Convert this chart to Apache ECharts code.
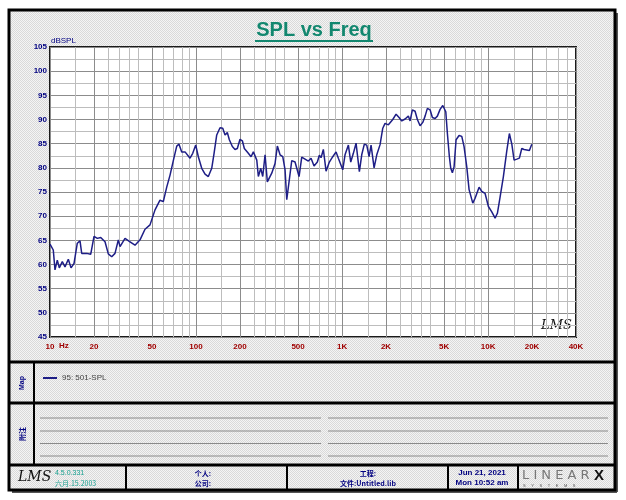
<!DOCTYPE html>
<html><head><meta charset="utf-8">
<script src="https://cdn.jsdelivr.net/npm/echarts@6/dist/echarts.min.js"></script>
<style>
html,body{margin:0;padding:0;background:#fff;}
#wrap{position:relative;width:626px;height:500px;overflow:hidden;}
#bg{position:absolute;left:9px;top:10px;width:606px;height:480px;background:repeating-conic-gradient(#d9d9d9 0 25%,#f4f4f4 0 50%) 0 0/2px 2px;}
#chart{position:absolute;left:0;top:0;width:626px;height:500px;}
</style></head><body>
<div id="wrap"><div id="bg"></div><div id="chart"></div></div>
<script>
// ---- data ----
const freqs = [10.0,10.53,10.82,11.22,11.58,12.14,12.67,13.35,13.93,14.6,15.38,16.05,16.49,17.84,19.0,20.02,21.09,22.25,23.81,25.08,26.46,27.87,29.37,30.17,32.64,35.31,38.21,41.34,44.73,48.4,52.39,56.66,59.7,63.0,66.38,69.9,73.77,76.47,79.8,84.09,86.37,90.98,94.93,99.52,103.7,109.4,115.3,121.4,128.1,132.9,138.6,146.0,152.4,158.0,163.8,169.1,177.3,184.9,191.8,200.1,207.6,214.2,228.1,238.1,247.0,260.6,267.2,277.5,286.3,297.0,307.9,330.0,347.6,360.5,376.2,392.6,407.1,418.1,452.4,476.5,507.6,529.7,558.0,587.8,613.4,643.0,677.3,699.0,718.1,744.6,777.0,818.5,863.6,909.9,943.5,1011,1048,1105,1147,1195,1247,1314,1364,1421,1476,1531,1580,1657,1729,1821,1900,1970,2076,2225,2344,2457,2564,2701,2845,2924,3031,3162,3280,3422,3571,3704,3840,4007,4155,4335,4495,4691,4895,4996,5133,5264,5432,5553,5695,5849,6037,6330,6605,6848,7146,7411,7857,8147,8677,9055,9539,10050,10600,11170,11580,12090,12730,13430,13990,14540,15070,15730,16380,17010,17650,18410,19180,19920];
const spl = [64.2,63.0,58.9,60.9,59.3,60.6,59.5,61.1,59.3,60.2,64.4,64.9,62.3,62.3,62.1,65.8,65.4,65.6,64.7,62.2,61.6,62.3,65.1,63.7,65.4,64.7,64.0,65.1,67.3,68.2,71.3,73.3,73.0,76.0,78.5,81.5,84.5,84.9,83.3,83.3,83.4,82.0,83.0,84.7,82.3,79.9,78.7,78.2,79.9,83.0,86.8,88.3,88.2,86.8,87.3,85.8,84.4,83.8,84.0,85.9,85.6,84.0,83.0,82.3,83.3,81.6,78.2,79.9,78.2,82.7,77.1,78.9,80.9,84.5,82.7,82.3,79.6,73.4,81.5,81.2,78.2,82.2,81.8,81.4,82.0,80.4,81.2,82.6,82.1,83.8,79.3,81.2,82.3,83.3,82.0,79.6,82.7,84.7,81.2,83.0,85.1,79.2,82.7,84.9,84.7,82.3,84.7,80.0,82.7,84.8,88.2,89.2,88.9,90.0,91.1,90.4,89.7,90.1,90.7,89.7,92.0,91.7,90.0,88.7,89.4,90.7,92.3,92.0,90.4,90.2,90.7,92.1,92.9,93.0,91.6,87.1,82.3,79.9,79.0,80.2,85.8,86.7,86.5,84.4,80.2,75.5,72.7,73.7,76.0,75.1,74.7,72.0,70.9,69.6,70.6,74.0,78.2,83.5,87.1,84.9,81.6,81.8,82.0,84.0,83.8,83.7,83.6,84.9];
const seriesName = '95: 501-SPL';
const xLabelTicks = [10,20,50,100,200,500,1000,2000,5000,10000,20000,40000];
const xMinorGrid = [15,25,30,35,40,60,70,80,90,150,250,300,350,400,600,700,800,900,1500,2500,3000,3500,4000,6000,7000,8000,9000,15000,25000,30000,35000];
const xLabelText = ['10','20','50','100','200','500','1K','2K','5K','10K','20K','40K'];
const yMin = 45, yMax = 105, yStep = 2.5, yLabelStep = 5;

const chart = echarts.init(document.getElementById('chart'), null, {renderer:'canvas'});
const FONT = 'Liberation Sans, Arial, sans-serif';
const xAxisCommon = {type:'log', logBase:10, min:10, max:40000, gridIndex:0, position:'bottom', offset:0, axisLine:{show:false}};
const frameLines = [];
function hline(x1,x2,y,w,c){frameLines.push({type:'line',shape:{x1:x1,y1:y,x2:x2,y2:y},style:{stroke:c||'#000',lineWidth:w},silent:true});}
function vline(x,y1,y2,w,c){frameLines.push({type:'line',shape:{x1:x,y1:y1,x2:x,y2:y2},style:{stroke:c||'#000',lineWidth:w},silent:true});}
hline(9,615,362,3); hline(9,615,403,3); hline(9,615,465,3);
vline(34,362,465,2);
[126,287,448,518].forEach(x=>vline(x,465,490,2));
[418,431,443.5,456].forEach(y=>{hline(40,321,y,1,'#8a8a8a');hline(328,608,y,1,'#8a8a8a');});

function txt(x,y,t,o,rot){const g={type:'text',x:x,y:y,silent:true,style:Object.assign({text:t,font:'8px '+FONT,fill:'#000080',textVerticalAlign:'middle'},o||{})}; if(rot) g.rotation=rot; return g;}

const option = {
  backgroundColor:'transparent',
  animation:false,
  grid:{left:50, top:47, width:526, height:290, show:true, backgroundColor:'#fff', borderColor:'#1a1a1a', borderWidth:2, containLabel:false},
  xAxis:[
    Object.assign({}, xAxisCommon, {
      axisTick:{show:false, customValues:xMinorGrid},
      axisLabel:{show:false, customValues:xMinorGrid},
      splitLine:{show:true, lineStyle:{color:'#bdbdbd', width:1}}
    }),
    Object.assign({}, xAxisCommon, {
      axisTick:{show:false, customValues:xLabelTicks},
      axisLabel:{show:true, customValues:xLabelTicks, margin:6, color:'#a00000', fontWeight:'bold', fontSize:8, fontFamily:FONT,
        formatter:(v)=>{const i=xLabelTicks.findIndex(t=>Math.abs(t-v)/t<1e-6);return i>=0?xLabelText[i]:'';}},
      splitLine:{show:true, lineStyle:{color:'#8c8c8c', width:1}}
    })
  ],
  yAxis:{type:'value', min:yMin, max:yMax, interval:yStep,
    axisLine:{show:false}, axisTick:{show:false},
    axisLabel:{margin:3, color:'#000080', fontWeight:'bold', fontSize:8, fontFamily:FONT,
      formatter:(v)=> (Math.abs(v % yLabelStep) < 1e-6 ? String(v) : '')},
    splitLine:{show:true, lineStyle:{color:['#8c8c8c','#bdbdbd'], width:1}}
  },
  legend:{left:38, top:369, icon:'rect', itemWidth:14, itemHeight:2, itemGap:4,
    textStyle:{fontSize:8, color:'#444', fontFamily:FONT}, data:[seriesName]},
  series:[{name:seriesName, type:'line', xAxisIndex:1, showSymbol:false, symbol:'none',
    lineStyle:{color:'#1e1e86', width:1.5}, itemStyle:{color:'#1e1e86'},
    data:freqs.map((f,i)=>[f,spl[i]])}],
  graphic:[
    {type:'rect', shape:{x:9,y:10,width:606,height:480}, style:{fill:'none',stroke:'#000',lineWidth:3}, silent:true, z:10},
    {type:'line', shape:{x1:12,y1:492,x2:617,y2:492}, style:{stroke:'#555',lineWidth:2}, silent:true},
    {type:'line', shape:{x1:617,y1:13,x2:617,y2:492}, style:{stroke:'#555',lineWidth:2}, silent:true},
    ...frameLines,
    txt(314,30,'SPL vs Freq',{font:'bold 20px '+FONT, fill:'#12876f', textAlign:'center'}),
    {type:'line', shape:{x1:255,y1:41,x2:373,y2:41}, style:{stroke:'#12876f',lineWidth:2}, silent:true},
    txt(51,41,'dBSPL',{font:'8px '+FONT}),
    txt(59,346,'Hz',{font:'bold 8px '+FONT, fill:'#a00000'}),
    txt(541,326,'LMS',{font:'italic 13px DejaVu Serif, serif', fill:'#111'}),
    txt(22,383,'Map',{font:'bold 7px '+FONT, textAlign:'center'}, Math.PI/2),
    txt(22,434,'附注',{font:'bold 7px Noto Sans CJK SC', textAlign:'center'}, Math.PI/2),
    txt(18,477,'LMS',{font:'italic 14px DejaVu Serif, serif', fill:'#111'}),
    txt(55,473,'4.5.0.331',{font:'7px '+FONT, fill:'#18a090'}),
    txt(55,483,'六月.15.2003',{font:'7px Noto Sans CJK SC', fill:'#18a090'}),
    txt(203,473,'个人:',{font:'bold 7px Noto Sans CJK SC', textAlign:'center'}),
    txt(203,483,'公司:',{font:'bold 7px Noto Sans CJK SC', textAlign:'center'}),
    txt(368,473,'工程:',{font:'bold 7px Noto Sans CJK SC', textAlign:'center'}),
    txt(368,483,'文件:Untitled.lib',{font:'bold 7px Noto Sans CJK SC', textAlign:'center'}),
    txt(482,473,'Jun 21, 2021',{font:'bold 8px '+FONT, textAlign:'center'}),
    txt(482,483,'Mon 10:52 am',{font:'bold 8px '+FONT, textAlign:'center'}),
    txt(522,476,'L I N E A R',{font:'13px DejaVu Sans, sans-serif', fill:'#777'}),
    txt(594,476,'X',{font:'bold 15px '+FONT, fill:'#111'}),
    txt(523,486,'S     Y     S     T     E     M     S',{font:'4px '+FONT, fill:'#555'})
  ]
};
chart.setOption(option);
</script>
</body></html>
